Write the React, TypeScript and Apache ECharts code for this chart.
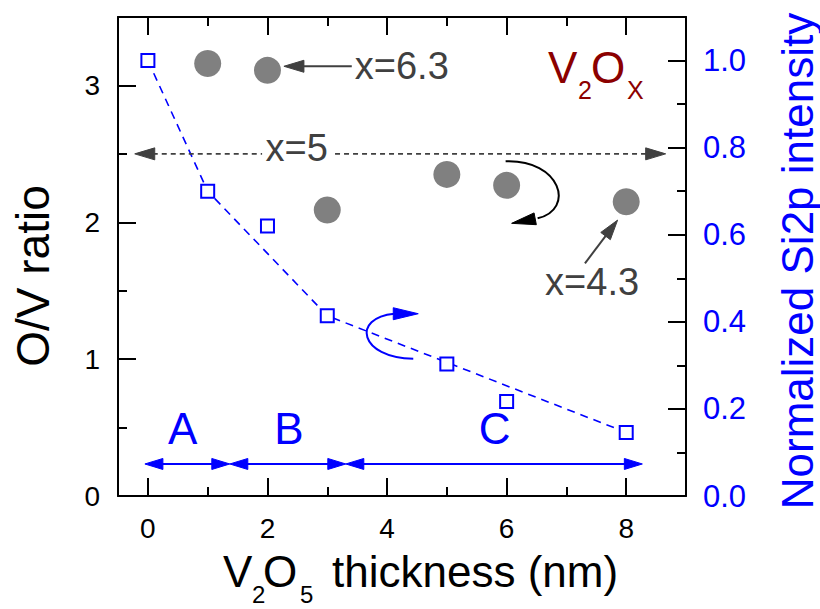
import React, { useEffect, useRef } from "react";
import * as echarts from "echarts";

// ---- data ----
const thicknessOV = [1, 2, 3, 5, 6, 8];
const ratioOV = [3.16, 3.11, 2.09, 2.35, 2.27, 2.15];
const thicknessSi = [0, 1, 2, 3, 5, 6, 8];
const intensitySi = [1.0, 0.7, 0.62, 0.414, 0.303, 0.217, 0.146];
const fitX = [0, 1, 3, 8];
const fitY = [1.0, 0.7, 0.414, 0.146];
const xMajorTicks = [0, 2, 4, 6, 8];
const xMinorTicks = [1, 3, 5, 7];
const leftMajorTicks = [0, 1, 2, 3];
const leftMinorTicks = [0.5, 1.5, 2.5];
const rightMajorTicks = [0, 0.2, 0.4, 0.6, 0.8, 1.0];
const rightMinorTicks = [0.1, 0.3, 0.5, 0.7, 0.9];
const regionLabels = ["A", "B", "C"];
const regionBounds = [-0.05, 1.37, 3.31, 8.27];
const regionLabelX = [0.58, 2.36, 5.8];

const FONT = "'Liberation Sans', Arial, Helvetica, sans-serif";
const BLUE = "#0000ff";
const DARK = "#404040";
const RED = "#8b0000";

type Pt = [number, number];

function arrowHead(tip: Pt, from: Pt, len: number, halfW: number, color: string) {
  const dx = tip[0] - from[0];
  const dy = tip[1] - from[1];
  const l = Math.hypot(dx, dy) || 1;
  const ux = dx / l, uy = dy / l;
  const bx = tip[0] - ux * len, by = tip[1] - uy * len;
  const px = -uy, py = ux;
  return {
    type: "polygon",
    shape: { points: [tip, [bx + px * halfW, by + py * halfW], [bx - px * halfW, by - py * halfW]] },
    style: { fill: color, stroke: color, lineWidth: 1 },
    silent: true,
    z: 10,
  };
}

function seg(a: Pt, b: Pt, color: string, width: number, dash?: number[]) {
  return {
    type: "line",
    shape: { x1: a[0], y1: a[1], x2: b[0], y2: b[1] },
    style: { stroke: color, lineWidth: width, lineDash: dash || null },
    silent: true,
    z: 9,
  };
}

function txt(text: string, x: number, y: number, size: number, color: string, align = "left", rotation = 0) {
  return {
    type: "text",
    x,
    y,
    rotation,
    style: { text, fontSize: size, fontFamily: FONT, fill: color, align, verticalAlign: "middle" },
    silent: true,
    z: 11,
  };
}

export default function App() {
  const ref = useRef<HTMLDivElement>(null);
  useEffect(() => {
    if (!ref.current) return;
    const chart = echarts.init(ref.current, null, { renderer: "svg" });
    const axisLineStyle = { color: "#000", width: 2 };
    const tickStyle = { color: "#000", width: 2 };
    const baseX = { type: "value", min: -0.5, max: 9, splitLine: { show: false }, gridIndex: 0 };
    const baseL = { type: "value", min: 0, max: 3.5, splitLine: { show: false }, gridIndex: 0 };
    const baseR = { type: "value", min: 0, max: 1.1, splitLine: { show: false }, gridIndex: 0 };
    const option: any = {
      animation: false,
      backgroundColor: "#fff",
      grid: { left: 118, top: 17, width: 568, height: 479 },
      xAxis: [
        {
          ...baseX,
          position: "bottom",
          axisLine: { show: true, onZero: false, lineStyle: axisLineStyle },
          axisTick: { show: true, inside: true, length: 18, lineStyle: tickStyle, customValues: xMajorTicks },
          axisLabel: { show: true, customValues: xMajorTicks, fontSize: 28, color: "#000", margin: 18, fontFamily: FONT },
        },
        {
          ...baseX,
          position: "bottom",
          axisLine: { show: false, onZero: false },
          axisTick: { show: true, inside: true, length: 9, lineStyle: tickStyle, customValues: xMinorTicks },
          axisLabel: { show: false },
        },
        {
          ...baseX,
          position: "top",
          axisLine: { show: true, onZero: false, lineStyle: axisLineStyle },
          axisTick: { show: true, inside: true, length: 18, lineStyle: tickStyle, customValues: xMajorTicks },
          axisLabel: { show: false },
        },
        {
          ...baseX,
          position: "top",
          axisLine: { show: false, onZero: false },
          axisTick: { show: true, inside: true, length: 9, lineStyle: tickStyle, customValues: xMinorTicks },
          axisLabel: { show: false },
        },
      ],
      yAxis: [
        {
          ...baseL,
          position: "left",
          axisLine: { show: true, onZero: false, lineStyle: axisLineStyle },
          axisTick: { show: true, inside: true, length: 18, lineStyle: tickStyle, customValues: leftMajorTicks },
          axisLabel: { show: true, customValues: leftMajorTicks, fontSize: 28, color: "#000", margin: 18, fontFamily: FONT },
        },
        {
          ...baseL,
          position: "left",
          axisLine: { show: false, onZero: false },
          axisTick: { show: true, inside: true, length: 9, lineStyle: tickStyle, customValues: leftMinorTicks },
          axisLabel: { show: false },
        },
        {
          ...baseR,
          position: "right",
          axisLine: { show: true, onZero: false, lineStyle: axisLineStyle },
          axisTick: { show: true, inside: true, length: 18, lineStyle: tickStyle, customValues: rightMajorTicks },
          axisLabel: {
            show: true,
            customValues: rightMajorTicks,
            fontSize: 31,
            color: BLUE,
            margin: 17,
            fontFamily: FONT,
            formatter: (v: number) => v.toFixed(1),
          },
        },
        {
          ...baseR,
          position: "right",
          axisLine: { show: false, onZero: false },
          axisTick: { show: true, inside: true, length: 9, lineStyle: tickStyle, customValues: rightMinorTicks },
          axisLabel: { show: false },
        },
      ],
      series: [
        {
          name: "O/V ratio",
          type: "scatter",
          xAxisIndex: 0,
          yAxisIndex: 0,
          data: thicknessOV.map((x, i) => [x, ratioOV[i]]),
          symbol: "circle",
          symbolSize: 27,
          itemStyle: { color: "#808080", opacity: 1 },
          z: 3,
        },
        {
          name: "fit",
          type: "line",
          xAxisIndex: 0,
          yAxisIndex: 2,
          data: fitX.map((x, i) => [x, fitY[i]]),
          symbol: "none",
          lineStyle: { color: BLUE, width: 1.6, type: [8, 6] },
          z: 2,
        },
        {
          name: "Si2p",
          type: "scatter",
          xAxisIndex: 0,
          yAxisIndex: 2,
          data: thicknessSi.map((x, i) => [x, intensitySi[i]]),
          symbol: "rect",
          symbolSize: 13,
          itemStyle: { color: "#fff", borderColor: BLUE, borderWidth: 2, opacity: 1 },
          z: 4,
        },
      ],
    };
    chart.setOption(option);

    const p = (x: number, y: number, yi = 0): Pt =>
      chart.convertToPixel({ xAxisIndex: 0, yAxisIndex: yi }, [x, y]) as Pt;

    const g: any[] = [];
    // x=6.3 arrow
    {
      const tip = p(2.275, 3.14);
      const tail = p(3.41, 3.14);
      g.push(seg([tip[0] + 18, tip[1]], tail, DARK, 2));
      g.push(arrowHead(tip, tail, 20, 6, DARK));
      g.push(txt("x=6.3", tail[0] + 3, tail[1], 38, DARK));
    }
    // x=5 double dashed arrow
    {
      const lt = p(-0.22, 2.5);
      const l2 = p(1.91, 2.5);
      const r1 = p(3.13, 2.5);
      const rt = p(8.66, 2.5);
      g.push(seg([lt[0] + 18, lt[1]], l2, DARK, 1.6, [5, 4]));
      g.push(seg(r1, [rt[0] - 18, rt[1]], DARK, 1.6, [5, 4]));
      g.push(arrowHead(lt, rt, 20, 6, DARK));
      g.push(arrowHead(rt, lt, 20, 6, DARK));
      const c = p(2.49, 2.546);
      g.push(txt("x=5", c[0], c[1], 38, DARK, "center"));
    }
    // x=4.3 arrow
    {
      const tail = p(7.31, 1.70);
      const tip = p(7.856, 2.016);
      const dx = tip[0] - tail[0], dy = tip[1] - tail[1];
      const l = Math.hypot(dx, dy);
      g.push(seg(tail, [tip[0] - (dx / l) * 16, tip[1] - (dy / l) * 16], DARK, 2));
      g.push(arrowHead(tip, tail, 20, 6, DARK));
      const c = p(7.43, 1.563);
      g.push(txt("x=4.3", c[0], c[1], 38, DARK, "center"));
    }
    // black curved arrow (points to left axis)
    {
      const a = p(6, 2.27);
      const o = (dx: number, dy: number): Pt => [a[0] + dx, a[1] + dy];
      const P0 = o(-1, -24), P1 = o(54, -26), P2 = o(69, 24), P3 = o(31, 33);
      g.push({
        type: "bezierCurve",
        shape: { x1: P0[0], y1: P0[1], cpx1: P1[0], cpy1: P1[1], cpx2: P2[0], cpy2: P2[1], x2: P3[0], y2: P3[1] },
        style: { stroke: "#000", lineWidth: 2, fill: null },
        silent: true,
        z: 9,
      });
      g.push(arrowHead(o(5, 38), o(31, 33), 24, 6, "#000"));
    }
    // blue curved arrow (points to right axis)
    {
      const a = p(3, 0.414, 2);
      const o = (dx: number, dy: number): Pt => [a[0] + dx, a[1] + dy];
      const P0 = o(86, 43), P1 = o(32, 42), P2 = o(24, 2), P3 = o(67, -2);
      g.push({
        type: "bezierCurve",
        shape: { x1: P0[0], y1: P0[1], cpx1: P1[0], cpy1: P1[1], cpx2: P2[0], cpy2: P2[1], x2: P3[0], y2: P3[1] },
        style: { stroke: BLUE, lineWidth: 2, fill: null },
        silent: true,
        z: 9,
      });
      g.push(arrowHead(o(91, -2), o(66, -2), 25, 6, BLUE));
    }
    // region arrows A, B, C
    {
      const yv = 0.234;
      for (let i = 0; i < regionLabels.length; i++) {
        const a = p(regionBounds[i], yv);
        const b = p(regionBounds[i + 1], yv);
        g.push(seg([a[0] + 10, a[1]], [b[0] - 10, b[1]], BLUE, 2));
        g.push(arrowHead(a, b, 18, 5.5, BLUE));
        g.push(arrowHead(b, a, 18, 5.5, BLUE));
        const c = p(regionLabelX[i], 0.495);
        g.push(txt(regionLabels[i], c[0], c[1], 44, BLUE, "center"));
      }
    }
    // V2Ox label
    g.push(txt("V", 548, 67, 44, RED));
    g.push(txt("2", 578, 90, 25, RED));
    g.push(txt("O", 591, 67, 44, RED));
    g.push(txt("X", 627, 90, 25, RED));
    // axis titles
    g.push(txt("V", 223, 571, 44, "#000"));
    g.push(txt("2", 252, 594, 24, "#000"));
    g.push(txt("O", 263, 571, 44, "#000"));
    g.push(txt("5", 300, 594, 24, "#000"));
    g.push(txt("thickness (nm)", 332, 571, 44, "#000"));
    g.push(txt("O/V ratio", 33, 276, 46, "#000", "center", Math.PI / 2));
    g.push(txt("Normalized Si2p intensity", 797, 261, 44, BLUE, "center", Math.PI / 2));

    chart.setOption({ graphic: g });
    return () => chart.dispose();
  }, []);
  return <div ref={ref} style={{ width: 820, height: 609, position: "absolute", left: 0, top: 0 }} />;
}
